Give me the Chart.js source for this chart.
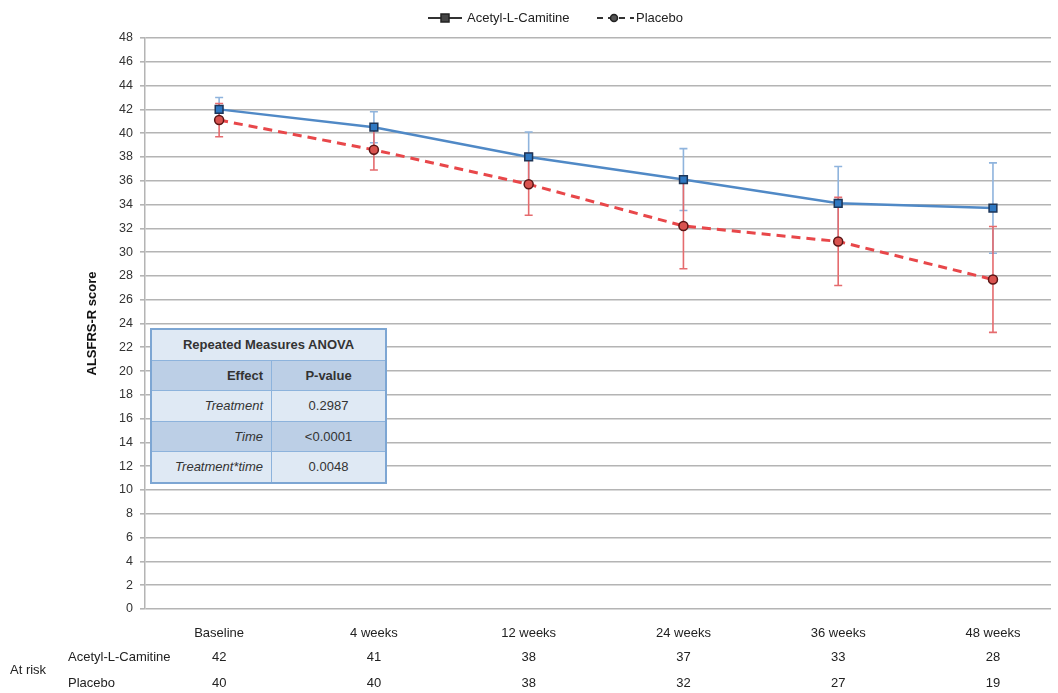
<!DOCTYPE html>
<html>
<head>
<meta charset="utf-8">
<script src="https://cdn.jsdelivr.net/npm/chart.js@4.4.0/dist/chart.umd.min.js"></script>
<style>
  html,body{margin:0;padding:0;background:#fff;}
  #wrap{position:relative;width:1058px;height:693px;font-family:"Liberation Sans",Arial,sans-serif;}
  canvas{position:absolute;left:0;top:0;}
  #anova{position:absolute;left:150px;top:328px;width:237px;border-collapse:collapse;border:2px solid #7da6d3;font-family:"Liberation Sans",Arial,sans-serif;font-size:13px;color:#333;}
  #anova td{border:1.5px solid #8db3dc;height:29.5px;padding:0 8px;}
  #anova .h{background:#dfe9f4;text-align:center;font-weight:bold;}
  #anova .d{background:#bccfe6;}
  #anova .l{background:#dfe9f4;}
  #anova .eff{text-align:right;font-style:italic;width:103px;}
  #anova .pv{text-align:center;}
</style>
</head>
<body>
<div id="wrap">
<canvas id="c" width="1058" height="693"></canvas>
<table id="anova">
  <tr><td class="h" colspan="2">Repeated Measures ANOVA</td></tr>
  <tr class="d"><td class="eff" style="font-style:normal;font-weight:bold">Effect</td><td class="pv" style="font-weight:bold">P-value</td></tr>
  <tr class="l"><td class="eff">Treatment</td><td class="pv">0.2987</td></tr>
  <tr class="d"><td class="eff">Time</td><td class="pv">&lt;0.0001</td></tr>
  <tr class="l"><td class="eff">Treatment*time</td><td class="pv">0.0048</td></tr>
</table>
</div>
<script>
const categories = ["Baseline", "4 weeks", "12 weeks", "24 weeks", "36 weeks", "48 weeks"];
const carnitineMean = [42.0, 40.5, 38.0, 36.1, 34.1, 33.7];
const carnitineErr  = [1.0, 1.3, 2.1, 2.6, 3.1, 3.8];
const placeboMean   = [41.1, 38.6, 35.7, 32.2, 30.9, 27.7];
const placeboErr    = [1.4, 1.7, 2.6, 3.6, 3.7, 4.45];
const atRiskCarnitine = [42, 41, 38, 37, 33, 28];
const atRiskPlacebo   = [40, 40, 38, 32, 27, 19];
const seriesNames = ["Acetyl-L-Camitine", "Placebo"];
const yTicks = [0,2,4,6,8,10,12,14,16,18,20,22,24,26,28,30,32,34,36,38,40,42,44,46,48];

const FONT = '"Liberation Sans", Arial, sans-serif';
const blue = '#5089c6', red = '#e8474a';
const errBlue = '#8fb4dd', errRed = '#e56b6e';

const errorBars = {
  id: 'errorBars',
  beforeDatasetsDraw(chart) {
    const ctx = chart.ctx, xs = chart.scales.x, ys = chart.scales.y;
    const sets = [[carnitineMean, carnitineErr, errBlue], [placeboMean, placeboErr, errRed]];
    ctx.save();
    ctx.lineWidth = 1.6;
    sets.forEach(([m, e, col]) => {
      ctx.strokeStyle = col;
      m.forEach((v, i) => {
        const x = xs.getPixelForValue(i);
        const y1 = ys.getPixelForValue(v + e[i]);
        const y2 = ys.getPixelForValue(v - e[i]);
        ctx.beginPath();
        ctx.moveTo(x, y1); ctx.lineTo(x, y2);
        ctx.moveTo(x - 4, y1); ctx.lineTo(x + 4, y1);
        ctx.moveTo(x - 4, y2); ctx.lineTo(x + 4, y2);
        ctx.stroke();
      });
    });
    ctx.restore();
  }
};

const extras = {
  id: 'extras',
  afterDraw(chart) {
    const ctx = chart.ctx, xs = chart.scales.x, ys = chart.scales.y;
    ctx.save();
    ctx.fillStyle = '#111';
    ctx.font = 'bold 13px ' + FONT;
    ctx.translate(92, (ys.top + ys.bottom) / 2);
    ctx.rotate(-Math.PI / 2);
    ctx.textAlign = 'center'; ctx.textBaseline = 'middle';
    ctx.fillText('ALSFRS-R score', 0, 0);
    ctx.restore();

    ctx.save();
    ctx.font = '13px ' + FONT;
    ctx.fillStyle = '#222';
    ctx.textBaseline = 'middle';
    ctx.textAlign = 'left';
    ctx.fillText('At risk', 10, 670);
    ctx.fillText(seriesNames[0], 68, 657);
    ctx.fillText(seriesNames[1], 68, 683);
    ctx.textAlign = 'center';
    categories.forEach((c, i) => {
      const x = xs.getPixelForValue(i);
      ctx.fillText(String(atRiskCarnitine[i]), x, 657);
      ctx.fillText(String(atRiskPlacebo[i]), x, 683);
    });
    ctx.restore();

    ctx.save();
    const ly = 18;
    ctx.lineWidth = 2;
    ctx.strokeStyle = '#333';
    ctx.beginPath(); ctx.moveTo(428, ly); ctx.lineTo(462, ly); ctx.stroke();
    ctx.fillStyle = '#444'; ctx.lineWidth = 1.5; ctx.strokeStyle = '#222';
    ctx.fillRect(441, ly - 4, 8, 8); ctx.strokeRect(441, ly - 4, 8, 8);
    ctx.setLineDash([6, 5]); ctx.lineWidth = 2; ctx.strokeStyle = '#333';
    ctx.beginPath(); ctx.moveTo(597, ly); ctx.lineTo(634, ly); ctx.stroke();
    ctx.setLineDash([]);
    ctx.beginPath(); ctx.arc(614, ly, 3.5, 0, Math.PI * 2);
    ctx.fillStyle = '#555'; ctx.fill(); ctx.lineWidth = 1.5; ctx.strokeStyle = '#222'; ctx.stroke();
    ctx.font = '13px ' + FONT; ctx.fillStyle = '#222'; ctx.textBaseline = 'middle'; ctx.textAlign = 'left';
    ctx.fillText(seriesNames[0], 467, ly);
    ctx.fillText(seriesNames[1], 636, ly);
    ctx.restore();
  }
};

new Chart(document.getElementById('c'), {
  type: 'line',
  data: {
    datasets: [
      {
        label: seriesNames[0],
        data: carnitineMean.map((v, i) => ({x: i, y: v})),
        borderColor: blue, borderWidth: 2.5,
        pointStyle: 'rect', pointRadius: 5.5, pointBackgroundColor: '#2f78c2',
        pointBorderColor: '#1d3557', pointBorderWidth: 1.5,
        tension: 0
      },
      {
        label: seriesNames[1],
        data: placeboMean.map((v, i) => ({x: i, y: v})),
        borderColor: red, borderWidth: 3, borderDash: [9, 6],
        pointStyle: 'circle', pointRadius: 4.5, pointBackgroundColor: '#d9534f',
        pointBorderColor: '#5a1515', pointBorderWidth: 1.5,
        tension: 0
      }
    ]
  },
  options: {
    responsive: false,
    animation: false,
    layout: { padding: { top: 38, bottom: 44, right: 3, left: 0 } },
    plugins: { legend: { display: false }, tooltip: { enabled: false } },
    scales: {
      x: {
        type: 'linear', min: -0.479, max: 5.375,
        afterBuildTicks(s) { s.ticks = categories.map((c, i) => ({value: i})); },
        afterFit(s) { s.height = 40; },
        grid: { display: false },
        border: { display: false },
        ticks: {
          callback: (v) => categories[v], padding: 9,
          font: { family: FONT, size: 13 }, color: '#222', maxRotation: 0, autoSkip: false
        }
      },
      y: {
        min: 0, max: 48,
        afterBuildTicks(s) { s.ticks = yTicks.map(v => ({value: v})); },
        afterFit(s) { s.width = 145; },
        grid: { color: '#b4b4b4', lineWidth: 1.6, tickLength: 5, tickColor: '#b4b4b4' },
        border: { display: true, color: '#b4b4b4', width: 1.5 },
        ticks: { padding: 7, font: { family: FONT, size: 12.5 }, color: '#333' }
      }
    }
  },
  plugins: [errorBars, extras]
});
</script>
</body>
</html>
